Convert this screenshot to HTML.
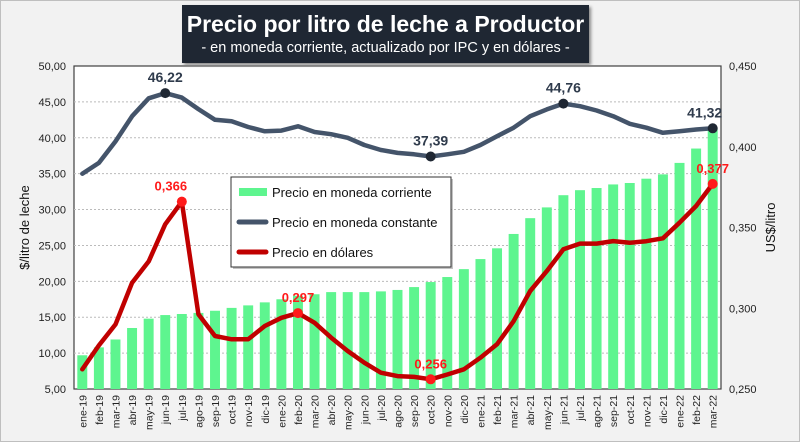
<!DOCTYPE html>
<html><head><meta charset="utf-8"><style>
body{margin:0;background:#fff}
#wrap{position:relative;width:800px;height:442px;background:#f2f2f2;border:1px solid #bfbfbf;box-sizing:border-box;font-family:"Liberation Sans",sans-serif;overflow:hidden}
#title{position:absolute;left:181px;top:4px;width:407px;height:58px;background:#1f2733;color:#fff;text-align:center;box-shadow:2px 2px 3px #888}
#title .t{font-size:23px;font-weight:bold;margin-top:6px;line-height:27px}
#title .s{font-size:14.5px;line-height:20px}
svg{position:absolute;left:0;top:0}
</style></head><body>
<div id="wrap">
<svg id="chart" width="800" height="442"></svg>
<div id="title"><div class="t">Precio por litro de leche a Productor</div><div class="s">- en moneda corriente, actualizado por IPC y en dólares -</div></div>
</div>
<script>
const categories=["ene-19","feb-19","mar-19","abr-19","may-19","jun-19","jul-19","ago-19","sep-19","oct-19","nov-19","dic-19","ene-20","feb-20","mar-20","abr-20","may-20","jun-20","jul-20","ago-20","sep-20","oct-20","nov-20","dic-20","ene-21","feb-21","mar-21","abr-21","may-21","jun-21","jul-21","ago-21","sep-21","oct-21","nov-21","dic-21","ene-22","feb-22","mar-22"];
const corriente=[9.7,10.8,11.9,13.5,14.8,15.3,15.45,15.6,15.9,16.3,16.65,17.07,17.5,18.0,18.2,18.5,18.5,18.5,18.6,18.8,19.2,19.9,20.6,21.7,23.1,24.6,26.6,28.8,30.3,32.0,32.7,33.0,33.5,33.7,34.3,34.9,36.5,38.5,41.2];
const constante=[35,36.5,39.5,43,45.5,46.22,45.6,44,42.5,42.3,41.5,40.9,41,41.6,40.8,40.5,40,39,38.3,37.9,37.7,37.39,37.7,38.05,39.0,40.2,41.4,43.0,43.95,44.76,44.4,43.8,43.0,41.95,41.4,40.7,40.9,41.15,41.32];
const dolares=[0.2622,0.277,0.290,0.3158,0.329,0.352,0.366,0.2963,0.2828,0.2808,0.2808,0.289,0.2941,0.297,0.291,0.2818,0.2735,0.2663,0.2601,0.258,0.2575,0.256,0.259,0.2622,0.2694,0.2777,0.292,0.3107,0.323,0.3365,0.340,0.340,0.3416,0.3405,0.3415,0.3433,0.353,0.3633,0.377];
const leftTicks=[5,10,15,20,25,30,35,40,45,50];
const rightTicks=[0.25,0.30,0.35,0.40,0.45];
const constLabels=[5,21,29,38];
const dolLabels=[6,13,21,38];

const NS="http://www.w3.org/2000/svg";
const svg=document.getElementById('chart');
const X0=73,X1=720,Y0=65,Y1=388;
const band=(X1-X0)/categories.length;
const xc=i=>X0+band*(i+0.5);
const yL=v=>Y1-(v-5)/45*(Y1-Y0);
const yR=v=>Y1-(v-0.25)/0.2*(Y1-Y0);
function mk(tag,attrs,parent){const e=document.createElementNS(NS,tag);for(const k in attrs)e.setAttribute(k,attrs[k]);(parent||svg).appendChild(e);return e;}
const fmt=(v,d)=>v.toFixed(d).replace('.',',');

let e=mk('rect',{x:X0,y:Y0,width:X1-X0,height:Y1-Y0,fill:'#fff',stroke:'#404040','stroke-width':1.2});


leftTicks.forEach(t=>{
  if(t>5&&t<50){e=mk('line',{x1:X0,x2:X1,y1:yL(t),y2:yL(t),stroke:'#bbb','stroke-dasharray':'2,2'});
  
  }
  e=mk('text',{x:X0-8,y:yL(t)+4,'text-anchor':'end','font-size':11,fill:'#222'});e.textContent=fmt(t,2);
  
  
});
rightTicks.forEach(t=>{
  e=mk('text',{x:X1+8,y:yR(t)+4,'font-size':11,fill:'#222'});e.textContent=fmt(t,3);
  
  
});
e=mk('text',{x:0,y:0,transform:`translate(28,${(Y0+Y1)/2}) rotate(-90)`,'text-anchor':'middle','font-size':13,fill:'#111'});e.textContent='$/litro de leche';


e=mk('text',{x:0,y:0,transform:`translate(774,${(Y0+Y1)/2}) rotate(-90)`,'text-anchor':'middle','font-size':13,fill:'#111'});e.textContent='US$/litro';


const bw=band*0.6;
corriente.forEach((v,i)=>{
  e=mk('rect',{x:xc(i)-bw/2,y:yL(v),width:bw,height:Y1-yL(v),fill:'#5ef58f'});
  
  
  e=mk('text',{x:0,y:0,transform:`translate(${xc(i)+4},${Y1+6}) rotate(-90)`,'text-anchor':'end','font-size':10.5,fill:'#222'});e.textContent=categories[i];
  
  
});
function path(arr,yf){return arr.map((v,i)=>(i?'L':'M')+xc(i).toFixed(1)+','+yf(v).toFixed(1)).join(' ');}
e=mk('path',{d:path(constante,yL),fill:'none',stroke:'#44546a','stroke-width':4.5,'stroke-linejoin':'round','stroke-linecap':'round'});


e=mk('path',{d:path(dolares,yR),fill:'none',stroke:'#c00000','stroke-width':4.5,'stroke-linejoin':'round','stroke-linecap':'round'});


constLabels.forEach(i=>{
  e=mk('circle',{cx:xc(i),cy:yL(constante[i]),r:5,fill:'#1f2733'});
  
  
  e=mk('text',{x:xc(i)-(i==38?8:0),y:yL(constante[i])-11,'text-anchor':'middle','font-size':14,'font-weight':'bold',fill:'#2f3b4c'});e.textContent=fmt(constante[i],2);
  
  
});
dolLabels.forEach(i=>{
  e=mk('circle',{cx:xc(i),cy:yR(dolares[i]),r:5,fill:'#ff1a1a'});
  
  
  e=mk('text',{x:xc(i)-(i==6?11:0),y:yR(dolares[i])-11,'text-anchor':'middle','font-size':13,'font-weight':'bold',fill:'#ff1a1a'});e.textContent=fmt(dolares[i],3);
  
  
});
// legend
const lg=mk('g',{});


mk('rect',{x:232,y:178,width:220,height:90,fill:'#888',opacity:0.5},lg);
e=mk('rect',{x:230,y:176,width:220,height:90,fill:'#fff',stroke:'#333','stroke-width':1},lg);
const items=[['Precio en moneda corriente','bar'],['Precio en moneda constante','#44546a'],['Precio en dólares','#c00000']];
items.forEach((it,k)=>{
  const y=191+k*30;
  if(it[1]=='bar'){e=mk('rect',{x:238,y:y-4,width:28,height:8,fill:'#5ef58f'},lg);}
  else{e=mk('line',{x1:238,x2:265,y1:y,y2:y,stroke:it[1],'stroke-width':5,'stroke-linecap':'round'},lg);}
  
  
  e=mk('text',{x:271,y:y+5,'font-size':13,fill:'#111'},lg);e.textContent=it[0];
  
  
});
</script>
</body></html>
